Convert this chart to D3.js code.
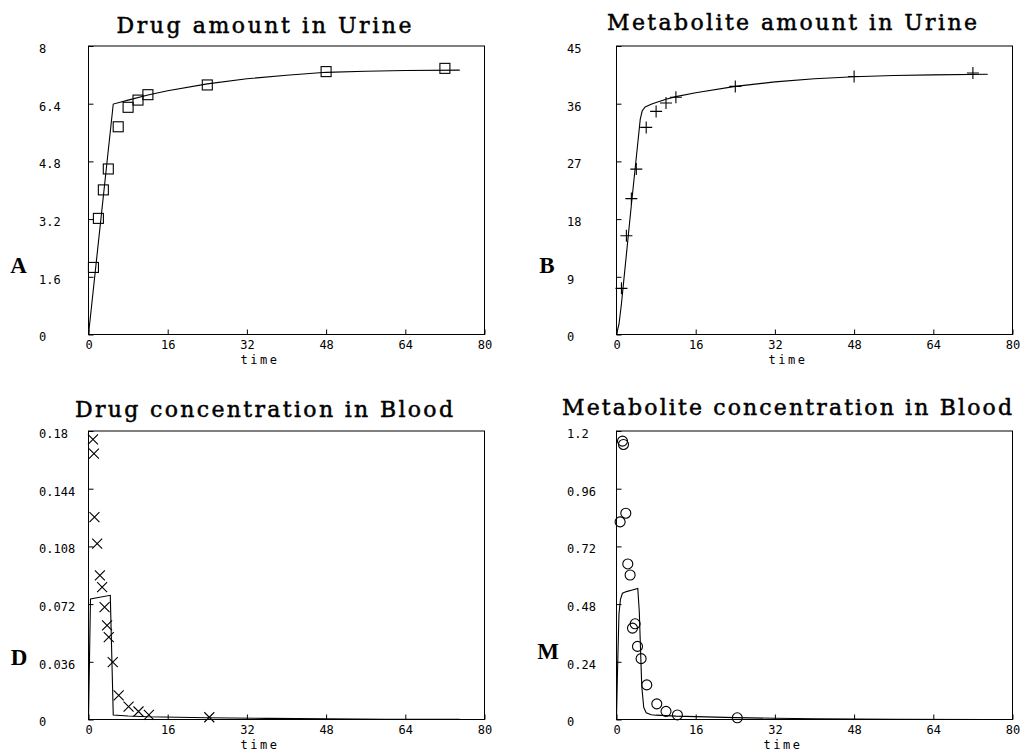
<!DOCTYPE html>
<html>
<head>
<meta charset="utf-8">
<script src="https://cdn.jsdelivr.net/npm/d3@7"></script>
<style>
  body { margin: 0; background: #fff; }
  svg { display: block; }
  .tick text { font-family: "DejaVu Sans Mono", monospace; font-size: 12px; fill: #000; }
  .tick line { stroke: #000; }
</style>
</head>
<body>
<svg id="chart"></svg>
<script>
const width = 1021;
const height = 752;

// 觀測值 (urine: 同一組時間點)
const timeUrine = [1, 2, 3, 4, 6, 8, 10, 12, 24, 48, 72];
const drugUrine = [1.86, 3.22, 4.01, 4.59, 5.76, 6.30, 6.50, 6.65, 6.92, 7.29, 7.38];
const metabUrine = [7.2, 15.4, 21.2, 25.8, 32.3, 34.8, 36.1, 37.0, 38.7, 40.25, 40.8];

// 觀測值 (blood)
const timeDrugBlood = [0.9, 1.1, 1.2, 1.75, 2.3, 2.75, 3.25, 3.75, 4.1, 4.9, 6.1, 8.1, 10.1, 12.2, 24.4];
const drugBlood = [0.1748, 0.1659, 0.1263, 0.1097, 0.0899, 0.0826, 0.0701, 0.0587, 0.0514, 0.0358, 0.015, 0.0081, 0.005, 0.0029, 0.0014];
const timeMetabBlood = [1.21, 1.41, 0.73, 1.88, 2.28, 2.75, 3.76, 3.23, 4.24, 4.97, 6.12, 8.14, 10.0, 12.3, 24.4];
const metabBlood = [1.158, 1.144, 0.822, 0.858, 0.647, 0.601, 0.398, 0.380, 0.304, 0.253, 0.144, 0.065, 0.034, 0.019, 0.007];

// 模型曲線 (fit)
const fitTimeA = [0, 5, 8, 12, 16, 24, 32, 40, 48, 56, 64, 75];
const fitA = [0, 6.39, 6.5, 6.64, 6.76, 6.95, 7.09, 7.19, 7.27, 7.30, 7.32, 7.33];
const fitTimeB = [0, 0.5, 1, 2, 3, 4, 4.8, 5.2, 5.8, 7, 8, 10, 12, 16, 24, 32, 40, 48, 56, 64, 75];
const fitB = [0, 1.6, 4.8, 12.5, 20.2, 27.6, 33.6, 34.9, 35.5, 35.9, 36.2, 36.7, 37.1, 37.7, 38.7, 39.4, 39.9, 40.2, 40.4, 40.5, 40.6];
const fitTimeD = [0, 0.4, 4.4, 5.0, 8, 12, 24, 36, 48, 60, 75];
const fitD = [0, 0.0752, 0.0775, 0.0028, 0.0022, 0.0017, 0.0011, 0.0007, 0.0004, 0.0002, 0.0001];
const fitTimeM = [0, 0.2, 0.5, 0.8, 1.2, 2, 3, 4.3, 4.6, 5.1, 5.5, 6, 7, 8, 12, 16, 24, 32, 40, 48, 56, 75];
const fitM = [0, 0.2, 0.44, 0.5, 0.525, 0.532, 0.538, 0.545, 0.45, 0.14, 0.05, 0.028, 0.02, 0.018, 0.014, 0.012, 0.008, 0.005, 0.003, 0.002, 0.001, 0.0003];

// 刻度
const xTicks = [0, 16, 32, 48, 64, 80];
const yTicksA = [0, 1.6, 3.2, 4.8, 6.4, 8];
const yTicksB = [0, 9, 18, 27, 36, 45];
const yTicksD = [0, 0.036, 0.072, 0.108, 0.144, 0.18];
const yTicksM = [0, 0.24, 0.48, 0.72, 0.96, 1.2];

const titles = ['Drug amount in Urine', 'Metabolite amount in Urine', 'Drug concentration in Blood', 'Metabolite concentration in Blood'];
const sideLabels = ['A', 'B', 'D', 'M'];

// 版面 (位置/大小)
const panels = [
    { left: 88.5, top: 46, tx: 264, ty: 33, tw: 295, lx: 18.5, ly: 273, t: timeUrine, v: drugUrine, ft: fitTimeA, fv: fitA, yt: yTicksA, mark: 'square' },
    { left: 616.5, top: 46, tx: 792, ty: 30, tw: 370, lx: 547, ly: 273, t: timeUrine, v: metabUrine, ft: fitTimeB, fv: fitB, yt: yTicksB, mark: 'plus' },
    { left: 88.5, top: 431, tx: 264, ty: 417, tw: 378, lx: 19, ly: 665, t: timeDrugBlood, v: drugBlood, ft: fitTimeD, fv: fitD, yt: yTicksD, mark: 'cross' },
    { left: 616.5, top: 431, tx: 787, ty: 415, tw: 450, lx: 548, ly: 659, t: timeMetabBlood, v: metabBlood, ft: fitTimeM, fv: fitM, yt: yTicksM, mark: 'circle' }
];
const plotW = 396;
const plotH = 288.5;

const svg = d3.select('#chart')
    .attr('width', width)
    .attr('height', height);

const fmt = d => String(+d.toFixed(3));

panels.forEach((p, i) => {
    const x = d3.scaleLinear().domain([0, 80]).range([p.left, p.left + plotW]);
    const y = d3.scaleLinear().domain([0, p.yt[p.yt.length - 1]]).range([p.top + plotH, p.top]);
    const g = svg.append('g');

    // 標題
    g.append('text')
        .attr('x', p.tx - p.tw / 2)
        .attr('y', p.ty)
        .attr('textLength', p.tw)
        .attr('lengthAdjust', 'spacing')
        .style('font-family', '"DejaVu Serif", serif')
        .style('font-size', '22px')
        .style('fill', '#000')
        .style('stroke', '#000')
        .style('stroke-width', '0.5px')
        .text(titles[i]);

    // 側邊字母
    g.append('text')
        .attr('x', p.lx)
        .attr('y', p.ly)
        .attr('text-anchor', 'middle')
        .style('font-family', '"Liberation Serif", serif')
        .style('font-weight', 'bold')
        .style('font-size', '23px')
        .text(sideLabels[i]);

    // 框
    g.append('rect')
        .attr('x', p.left)
        .attr('y', p.top)
        .attr('width', plotW)
        .attr('height', plotH)
        .attr('fill', 'none')
        .attr('stroke', '#000')
        .attr('stroke-width', 1);

    // x 軸
    const xAxis = g.append('g')
        .attr('transform', `translate(0,${p.top + plotH})`)
        .call(d3.axisBottom(x).tickValues(xTicks).tickSize(-5).tickPadding(6).tickFormat(fmt));
    xAxis.select('.domain').remove();

    g.append('text')
        .attr('x', p.tx - 4)
        .attr('y', p.top + plotH + 29)
        .attr('text-anchor', 'middle')
        .style('font-family', '"DejaVu Sans Mono", monospace')
        .style('font-size', '12px')
        .style('letter-spacing', '2.5px')
        .text('time');

    // y 軸
    const yAxis = g.append('g')
        .attr('transform', `translate(${p.left},0)`)
        .call(d3.axisLeft(y).tickValues(p.yt).tickSize(-5).tickFormat(fmt));
    yAxis.select('.domain').remove();
    yAxis.selectAll('.tick text')
        .attr('x', -49.5)
        .attr('y', 2.5)
        .attr('text-anchor', 'start');

    // 曲線
    const line = d3.line()
        .x(d => x(d[0]))
        .y(d => y(d[1]));
    g.append('path')
        .datum(p.ft.map((t, k) => [t, p.fv[k]]))
        .attr('d', line)
        .attr('fill', 'none')
        .attr('stroke', '#000')
        .attr('stroke-width', 1.1);

    // 標記
    const pts = p.t.map((t, k) => [t, p.v[k]]);
    const s = 5;
    const marks = g.append('g').attr('fill', 'none').attr('stroke', '#000').attr('stroke-width', 1.1);
    pts.forEach(d => {
        const cx = x(d[0]), cy = y(d[1]);
        if (p.mark === 'square') {
            marks.append('rect').attr('x', cx - s).attr('y', cy - s).attr('width', 2 * s).attr('height', 2 * s);
        } else if (p.mark === 'plus') {
            marks.append('path').attr('d', `M${cx - s - 1},${cy}H${cx + s + 1}M${cx},${cy - s - 1}V${cy + s + 1}`);
        } else if (p.mark === 'cross') {
            marks.append('path').attr('d', `M${cx - s},${cy - s}L${cx + s},${cy + s}M${cx - s},${cy + s}L${cx + s},${cy - s}`);
        } else {
            marks.append('circle').attr('cx', cx).attr('cy', cy).attr('r', s);
        }
    });
});
</script>
</body>
</html>
